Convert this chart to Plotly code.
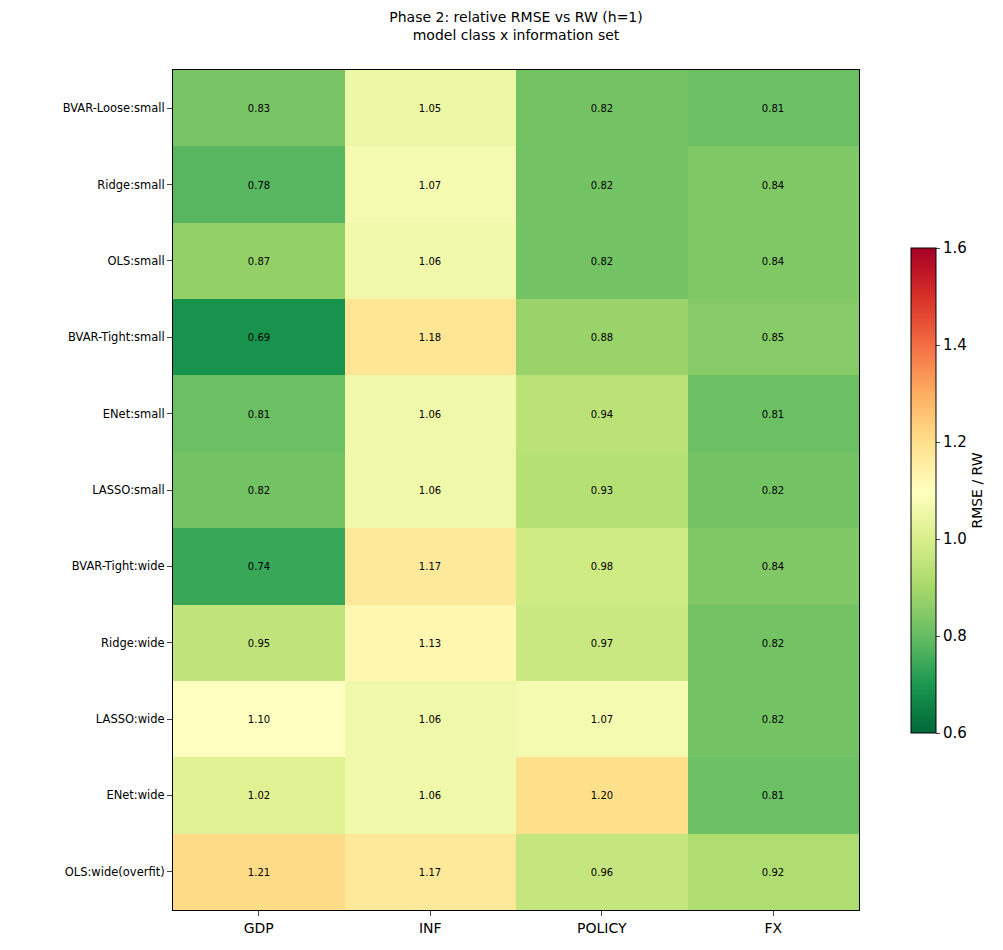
import plotly.graph_objects as go

rows = ["BVAR-Loose:small","Ridge:small","OLS:small","BVAR-Tight:small","ENet:small",
        "LASSO:small","BVAR-Tight:wide","Ridge:wide","LASSO:wide","ENet:wide","OLS:wide(overfit)"]
cols = ["GDP","INF","POLICY","FX"]
gdp = [0.83,0.78,0.87,0.69,0.81,0.82,0.74,0.95,1.10,1.02,1.21]
inf = [1.05,1.07,1.06,1.18,1.06,1.06,1.17,1.13,1.06,1.06,1.17]
policy = [0.82,0.82,0.82,0.88,0.94,0.93,0.98,0.97,1.07,1.20,0.96]
fx = [0.81,0.84,0.84,0.85,0.81,0.82,0.84,0.82,0.82,0.81,0.92]

z = [[gdp[i], inf[i], policy[i], fx[i]] for i in range(len(rows))]
text = [[f"{v:.2f}" for v in r] for r in z]

fig = go.Figure(go.Heatmap(
    z=z, x=cols, y=rows, text=text, texttemplate="%{text}",
    textfont=dict(size=10, color="black", family="DejaVu Sans"),
    colorscale="RdYlGn_r", zmin=0.6, zmax=1.6, xgap=0, ygap=0,
    colorbar=dict(title=dict(text="RMSE / RW", side="right", font=dict(size=14)),
                  x=1.061, xanchor="left", y=0.4994, yanchor="middle",
                  len=0.601, lenmode="fraction", thickness=25,
                  outlinecolor="black", outlinewidth=1,
                  tickvals=[0.6,0.8,1.0,1.2,1.4,1.6], ticktext=["0.6","0.8","1.0","1.2","1.4","1.6"],
                  ticks="outside", ticklen=4, tickfont=dict(size=15))
))
fig.update_layout(
    width=1003, height=950, margin=dict(l=165, r=152, t=62, b=48),
    paper_bgcolor="white", plot_bgcolor="white",
    font=dict(family="DejaVu Sans", color="black"),
    title=dict(text="Phase 2: relative RMSE vs RW (h=1)<br>model class x information set",
               x=(165+851)/2/1003, xanchor="center", y=0.985, yanchor="top",
               font=dict(size=14)),
)
fig.update_xaxes(showline=True, linecolor="black", mirror=True, ticks="outside",
                 tickfont=dict(size=14), showgrid=False)
fig.update_yaxes(showline=True, linecolor="black", mirror=True, ticks="outside",
                 tickfont=dict(size=11.5), autorange="reversed", showgrid=False)
fig.write_html("out.html")
